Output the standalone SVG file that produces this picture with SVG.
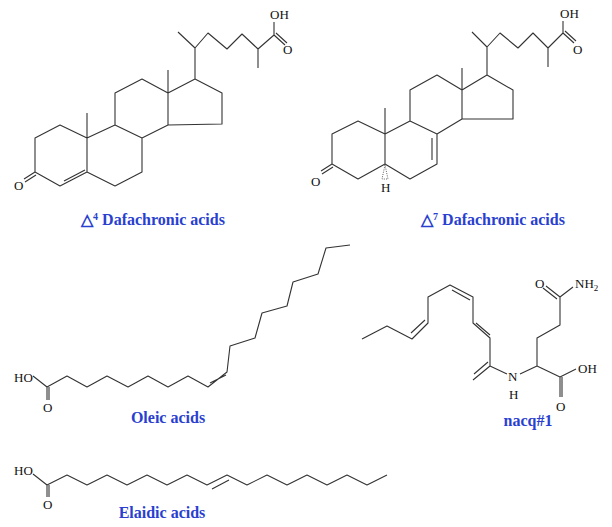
<svg xmlns="http://www.w3.org/2000/svg" width="612" height="527" viewBox="0 0 612 527">
<style>
.b{fill:none;stroke:#333;stroke-width:1.1;stroke-linejoin:round}
.a{font-family:"Liberation Serif",serif;font-size:13px;fill:#111}
.l{font-family:"Liberation Serif",serif;font-size:16px;font-weight:bold;fill:#2a3fd0;text-anchor:middle}
</style>
<rect width="612" height="527" fill="#fff"/>
<g id="d4">
<path class="b" d="M60,125 L35,138 L35,172 L60,186 L87,172 L87,138 Z M87,138 L115,125 L142,138 L142,172 L115,186 L87,172 M87,138 L87,113 M115,125 L115,93 L142,79 L168,93 L168,125 L142,138 M168,93 L168,70 M168,93 L195,79 L222,93 L222,124 L168,125 M195,79 L195,48 L178,32 M195,48 L208,33 L227,49 L242,34 L258,49 L258,68 M258,49 L274,35 L274,22 M274,35 L285,45 M276,33 L287,43 M35,172 L24,179 M36,175 L25,182 M64,181 L85,170"/>
<text class="a" x="14" y="190">O</text>
<text class="a" x="270" y="19">OH</text>
<text class="a" x="283" y="54">O</text>
<text class="l" x="153" y="225">△<tspan font-size="10" dy="-5">4</tspan><tspan dy="5"> Dafachronic acids</tspan></text>
</g>
<g id="d7">
<path class="b" d="M358,121 L332,134 L332,164 L358,179 L385,164 L385,134 Z M385,134 L410,121 L437,134 L437,164 L410,179 L385,164 M385,134 L385,108 M410,121 L410,90 L437,75 L462,90 L462,119 L437,134 M462,90 L462,68 M462,90 L487,75 L513,90 L513,119 L462,119 M487,75 L487,47 L472,32 M487,47 L500,33 L518,48 L533,33 L548,48 L548,67 M548,48 L563,33 L563,21 M563,33 L574,43 M565,31 L576,41 M332,164 L321,171 M333,167 L322,174 M432,138 L432,160"/>
<path d="M385,165 L382,179 L388,179 Z" fill="none" stroke="#333" stroke-width="0.8" stroke-dasharray="1 1.3"/>
<text class="a" x="311" y="186">O</text>
<text class="a" x="381" y="192">H</text>
<text class="a" x="560" y="18">OH</text>
<text class="a" x="573" y="54">O</text>
<text class="l" x="493" y="225">△<tspan font-size="10" dy="-5">7</tspan><tspan dy="5"> Dafachronic acids</tspan></text>
</g>
<g id="oleic">
<path class="b" d="M33,376 L47,387 L67,376 L87,387 L107,376 L128,387 L148,376 L168,387 L188,376 L208,387 L227,372 L230,346 L255,338 L262,313 L287,306 L293,282 L318,274 L326,248 L350,245 M47,387 L47,400 M49,387 L49,400 M210,383 L226,375"/>
<text class="a" x="14" y="382">HO</text>
<text class="a" x="43" y="412">O</text>
<text class="l" x="168" y="423">Oleic acids</text>
</g>
<g id="elaidic">
<path class="b" d="M33,474 L47,485 L67,475 L87,485 L107,475 L127,485 L147,475 L167,485 L187,475 L207,485 L227,475 L247,485 L267,475 L287,485 L307,475 L327,485 L347,475 L367,485 L387,475 M47,485 L47,497 M49,485 L49,497 M212,489 L229,480"/>
<text class="a" x="14" y="475">HO</text>
<text class="a" x="43" y="509">O</text>
<text class="l" x="162" y="518">Elaidic acids</text>
</g>
<g id="nacq">
<path class="b" d="M362,339 L387,326 L412,339 L428,323 L428,297 L450,285 L473,297 L473,323 L490,338 L490,366 L473,380 M411,333 L425,320 M452,290 L470,300 M476,323 L490,335 M488,362 L474,374 M490,366 L507,374 M520,374 L537,366 L537,338 L560,325 L560,297 L573,287 M560,297 L546,286 M557,299 L543,288 M537,366 L560,377 L576,369 M560,377 L560,397 M562,377 L562,397"/>
<text class="a" x="508" y="381">N</text>
<text class="a" x="509" y="399">H</text>
<text class="a" x="535" y="288">O</text>
<text class="a" x="575" y="288">NH<tspan font-size="9" dy="3">2</tspan></text>
<text class="a" x="578" y="373">OH</text>
<text class="a" x="556" y="411">O</text>
<text class="l" x="528" y="426">nacq#1</text>
</g>
</svg>
